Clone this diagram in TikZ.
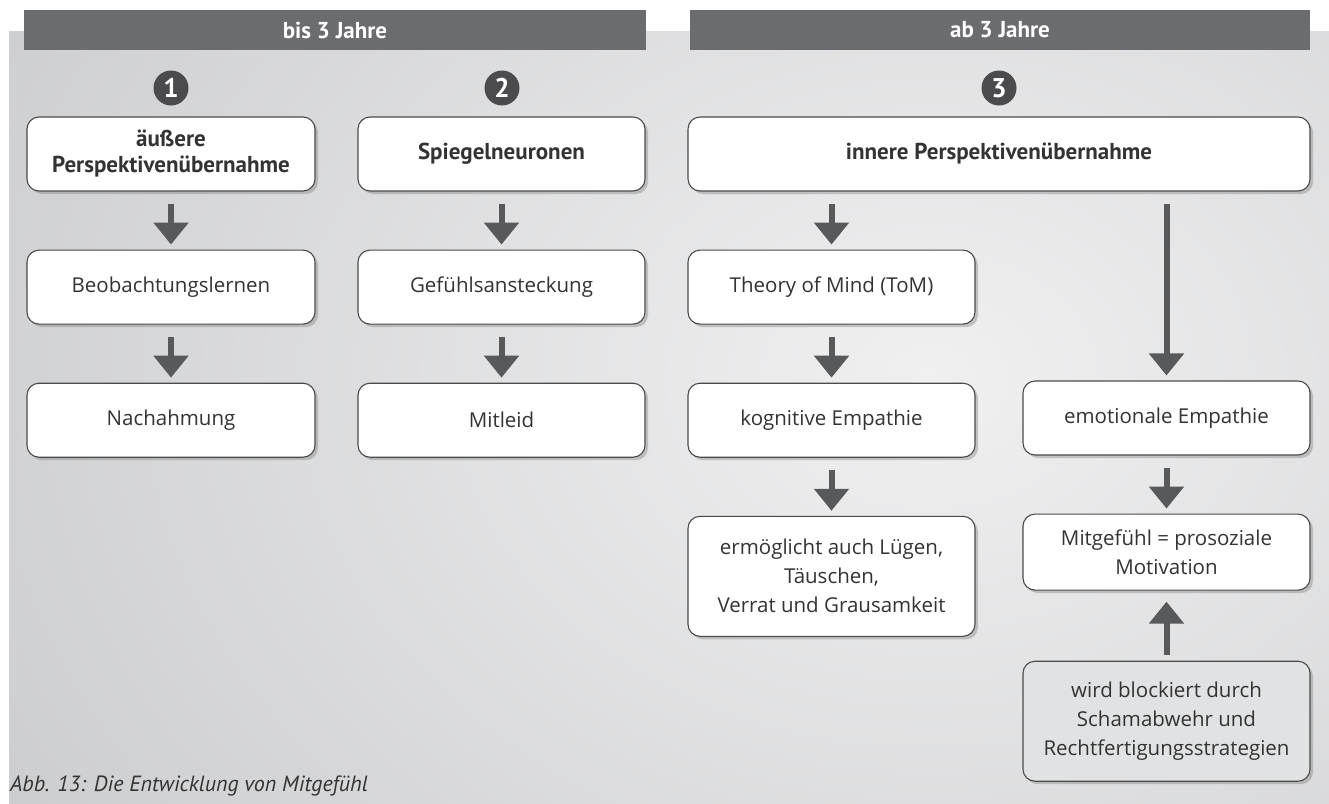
\documentclass[tikz,border=0pt]{standalone}
\usepackage{fontspec}
\setmainfont{Open Sans}
\newfontfamily\kopffont{PT Sans}
\usetikzlibrary{arrows.meta, positioning, shadows}
\definecolor{balkengrau}{HTML}{6B6C6F}
\definecolor{kreisgrau}{HTML}{4B4B4D}
\definecolor{pfeilgrau}{HTML}{58595B}
\definecolor{randgrau}{HTML}{4A4A4A}
\definecolor{textgrau}{HTML}{333333}
\definecolor{hgdunkel}{HTML}{C5C6C8}
\definecolor{hghell}{HTML}{F0F0F1}
\definecolor{blockgrau}{HTML}{E1E2E3}
\tikzset{
  kasten/.style={rectangle, rounded corners=12pt, draw=randgrau, line width=1.1pt,
                 fill=white, minimum width=287pt, minimum height=74pt,
                 align=center, text=textgrau, font=\fontsize{20.5}{29}\selectfont,
                 drop shadow={shadow xshift=3pt, shadow yshift=-3pt, opacity=.4}},
  titel/.style={kasten, font=\kopffont\bfseries\fontsize{23}{26}\selectfont},
  balken/.style={rectangle, fill=balkengrau, minimum height=40pt, text=white,
                 font=\kopffont\bfseries\fontsize{23}{26}\selectfont},
  nummer/.style={circle, fill=kreisgrau, minimum size=35pt, inner sep=0pt,
                 text=white, font=\kopffont\bfseries\fontsize{27}{27}\selectfont},
  pfeil/.style={-{Triangle[width=34pt, length=22pt]}, line width=6pt,
                draw=pfeilgrau}
}

\begin{document}
\begin{tikzpicture}[x=1pt, y=-1pt,
  legende/.style={font=\kopffont\itshape\fontsize{22}{24}\selectfont,
                  text=textgrau, inner sep=0pt, anchor=west}
]
  \useasboundingbox (0,0) rectangle (1329,803);
  % ── Hintergrund ──
  \fill[hgdunkel] (9,31) rectangle (1329,803);
  \begin{scope}
    \clip (9,31) rectangle (1329,803);
    \shade[inner color=hghell, outer color=hgdunkel] (930,380) ellipse (1300 and 1000);
  \end{scope}

  % ── Kopfbalken und Nummern ──
  \node[balken, minimum width=622pt] (bis3) at (335,30)  {bis 3 Jahre};
  \node[balken, minimum width=620pt] (ab3)  at (1000,30) {ab 3 Jahre};
  \node[nummer] (n1) at (171,88)  {1};
  \node[nummer] (n2) at (502,88)  {2};
  \node[nummer] (n3) at (999,88)  {3};

  % ── Obere Kästen ──
  \node[titel, minimum width=288pt] (aeussere) at (171,154)
        {äußere\\Perspektivenübernahme};
  \node[titel] (spiegel) at (501.5,154) {Spiegelneuronen};
  \node[titel, minimum width=622pt] (innere) at (999,154)
        {innere Perspektivenübernahme};

  % ── Spalten 1 und 2 ──
  \node[kasten, minimum width=288pt, below=58pt of aeussere] (beob)
        {Beobachtungslernen};
  \node[kasten, minimum width=288pt, below=58pt of beob]     (nachahm)
        {Nachahmung};
  \node[kasten, below=58pt of spiegel] (gefuehl) {Gefühlsansteckung};
  \node[kasten, below=58pt of gefuehl] (mitleid) {Mitleid};

  % ── Spalte 3 ──
  \node[kasten, below=58pt of innere.south west, anchor=north west] (tom)
        {Theory of Mind (ToM)};
  \node[kasten, below=58pt of tom] (kogn) {kognitive Empathie};
  \node[kasten, minimum height=120pt, below=58pt of kogn] (luegen)
        {ermöglicht auch Lügen,\\Täuschen,\\Verrat und Grausamkeit};
  \node[kasten] (emot) at (1166.5,418) {emotionale Empathie};
  \node[kasten, minimum height=76pt, below=58pt of emot] (mitgef)
        {Mitgefühl = prosoziale\\Motivation};
  \node[kasten, fill=blockgrau, minimum height=120pt, below=70pt of mitgef]
        (block) {wird blockiert durch\\Schamabwehr und\\Rechtfertigungsstrategien};

  \node[legende] (abb) at (10,786) {Abb. 13: Die Entwicklung von Mitgefühl};

  % ── Pfeile ──
  \draw[pfeil] ([yshift=-12pt]aeussere.south) -- ([yshift=5pt]beob.north);
  \draw[pfeil] ([yshift=-12pt]beob.south)     -- ([yshift=5pt]nachahm.north);
  \draw[pfeil] ([yshift=-12pt]spiegel.south)  -- ([yshift=5pt]gefuehl.north);
  \draw[pfeil] ([yshift=-12pt]gefuehl.south)  -- ([yshift=5pt]mitleid.north);
  \draw[pfeil] ([yshift=-12pt]innere.south -| tom.north) -- ([yshift=5pt]tom.north);
  \draw[pfeil] ([yshift=-12pt]tom.south)      -- ([yshift=5pt]kogn.north);
  \draw[pfeil] ([yshift=-12pt]kogn.south)     -- ([yshift=5pt]luegen.north);
  \draw[pfeil] ([yshift=-12pt]innere.south -| emot.north) -- ([yshift=5pt]emot.north);
  \draw[pfeil] ([yshift=-12pt]emot.south)     -- ([yshift=5pt]mitgef.north);
  \draw[pfeil] ([yshift=6pt]block.north)      -- ([yshift=-11pt]mitgef.south);
\end{tikzpicture}
\end{document}
